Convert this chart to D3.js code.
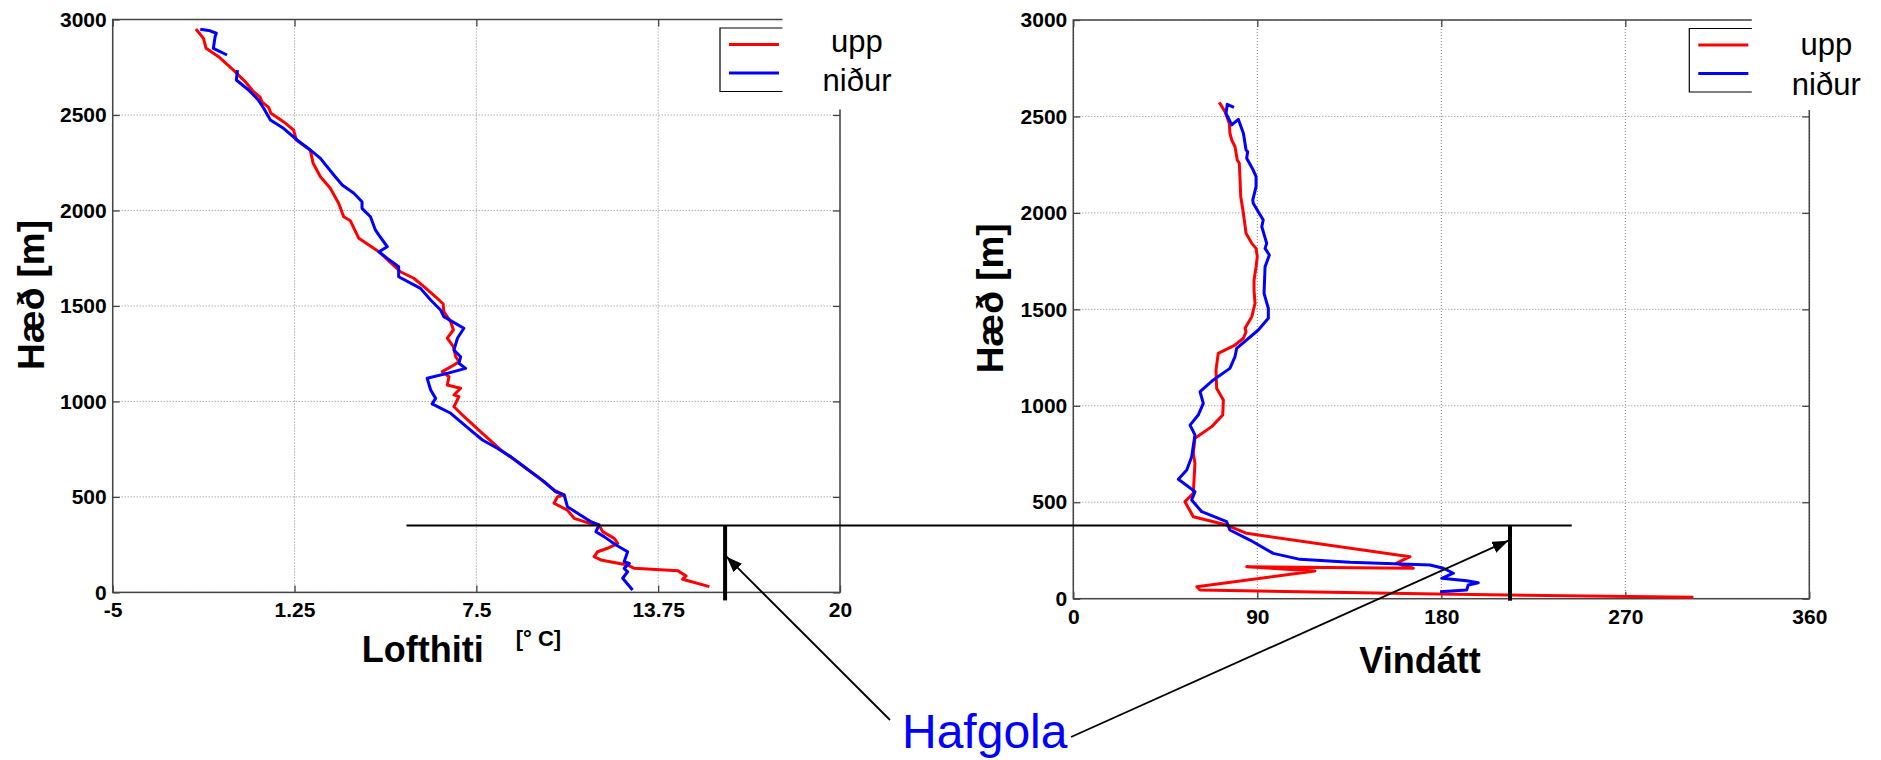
<!DOCTYPE html>
<meta charset="utf-8">
<script src="https://d3js.org/d3.v7.min.js"></script>
<style>
  body { margin: 0; background: #fff; }
  svg text { font-family: "Liberation Sans", Arial, sans-serif; }
</style>
<div id="chart"></div>
<script>
// height ticks shared by both panels
var heightTicks = [0, 500, 1000, 1500, 2000, 2500, 3000];
var tempTicks = [-5, 1.25, 7.5, 13.75, 20];
var dirTicks = [0, 90, 180, 270, 360];
var seriesNames = ["upp", "niður"];

// [lofthiti °C, hæð m] -- upp
var tempUpp = [[-2.14,2950],[-1.88,2901],[-1.79,2849],[-1.36,2805],[-0.85,2735],[-0.44,2674],[-0.16,2622],[0.07,2593],[0.13,2569],[0.36,2540],[0.44,2509],[0.87,2465],[1.22,2421],[1.31,2369],[1.79,2317],[1.89,2247],[2.14,2177],[2.48,2116],[2.77,2037],[2.94,1967],[3.17,1946],[3.46,1854],[4.15,1784],[4.89,1679],[5.35,1645],[5.70,1601],[6.10,1548],[6.36,1510],[6.38,1470],[6.62,1417],[6.71,1374],[6.50,1331],[6.71,1287],[6.79,1234],[6.90,1208],[6.73,1191],[6.33,1156],[6.56,1129],[6.50,1086],[6.96,1069],[6.73,1034],[6.90,1025],[6.73,972],[6.96,938],[7.65,841],[8.34,746],[9.14,658],[9.60,606],[10.17,536],[10.52,510],[10.29,501],[10.17,467],[10.63,431],[10.86,388],[11.32,365],[11.72,353],[11.84,318],[12.24,283],[12.36,257],[12.01,231],[11.67,213],[11.55,187],[11.78,170],[12.70,143],[12.93,126],[14.42,114],[14.71,86],[14.59,69],[15.51,30]];

// niður (null = gap in the record)
var tempNidur = [[-1.99,2949],[-1.65,2941],[-1.44,2928],[-1.48,2910],[-1.54,2849],[-1.07,2814],null,[-0.71,2735],[-0.75,2683],[-0.33,2631],[0.01,2578],[0.19,2535],[0.42,2474],[0.87,2430],[1.34,2369],[1.79,2317],[2.14,2273],[2.60,2186],[2.89,2133],[3.29,2090],[3.57,2046],[3.57,2011],[3.86,1967],[4.03,1898],[4.15,1871],[4.44,1810],[4.15,1784],[4.44,1749],[4.83,1705],[4.83,1653],[5.58,1592],[5.93,1531],[6.27,1479],[6.38,1444],[7.07,1383],[6.85,1331],[6.73,1269],[6.96,1234],[6.90,1200],[7.13,1173],[6.50,1147],[5.81,1121],[5.93,1060],[6.10,1016],[5.98,987],[6.62,938],[7.30,850],[7.71,798],[8.22,755],[8.68,711],[9.14,658],[9.83,580],[10.23,527],[10.52,510],[10.63,449],[10.98,414],[11.44,370],[11.72,353],[11.61,318],[11.89,292],[12.30,248],[12.70,213],[12.58,161],[12.76,152],[12.58,126],[12.70,108],[12.53,74],[12.87,13]];

// [vindátt °, hæð m]
var dirUpp = [[71.4,2573],[74.2,2525],[76.3,2465],[76.6,2413],[77.5,2378],[79.1,2343],[80.2,2274],[81.2,2257],[81.5,2188],[81.9,2084],[83.2,1998],[84.5,1894],[87.3,1842],[89.4,1816],[90.0,1773],[89.4,1721],[88.4,1652],[88.4,1600],[88.9,1531],[87.3,1462],[84.0,1402],[84.5,1384],[83.2,1350],[79.1,1315],[70.9,1272],[69.8,1186],[70.1,1091],[73.4,1030],[73.1,952],[67.7,892],[59.5,832],[58.7,754],[59.5,702],[58.7,546],[54.6,503],[58.7,425],[75.0,382],[84.8,339],[164.7,218],[158.2,184],[166.3,158],[84.8,166],[118.2,144],[60.4,62],[62.0,45],[177.8,24],[303.3,7]];

var dirNidur = [[78.6,2547],[75.3,2563],[74.7,2516],[77.5,2456],[80.7,2485],[83.2,2413],[84.5,2326],[85.3,2317],[84.8,2283],[88.0,2222],[89.4,2188],[89.4,2136],[87.8,2067],[88.0,2050],[92.9,1963],[92.2,1928],[94.6,1842],[93.8,1816],[95.9,1782],[93.8,1721],[93.3,1583],[95.4,1505],[95.4,1454],[90.5,1393],[79.9,1298],[79.1,1255],[76.6,1194],[68.5,1134],[62.0,1073],[63.6,1013],[61.1,952],[57.1,900],[59.5,849],[57.9,736],[55.5,667],[51.4,619],[59.5,555],[57.9,512],[62.8,451],[75.0,399],[76.6,356],[86.4,304],[97.8,235],[110.9,204],[135.3,189],[174.5,175],[181.0,158],[185.9,132],[180.2,106],[192.4,93],[198.1,83],[193.2,71],[192.4,45],[179.4,36]];

// sea-breeze (hafgola) annotation, in data units
var hafgolaHeight = 350;
var hafgolaStartT = 5.1, hafgolaEndDir = 243.8;
var markerT = 16.05, markerDir = 213.6;
var arrowTipLeft = [16.1, 187], arrowTipRight = [212.8, 301];

var svg = d3.select("#chart").append("svg")
    .attr("width", 1881)
    .attr("height", 760)
    .style("background", "#fff");

svg.append("defs").append("marker")
    .attr("id", "arrow")
    .attr("viewBox", "0 0 16 12")
    .attr("refX", 16).attr("refY", 6)
    .attr("markerWidth", 16).attr("markerHeight", 12)
    .attr("markerUnits", "userSpaceOnUse")
    .attr("orient", "auto")
  .append("path")
    .attr("d", "M0,0L16,6L0,12Z")
    .attr("fill", "#000");

function drawPanel(p) {
  var g = svg.append("g").attr("transform", "translate(" + p.left + "," + p.top + ")");

  var x = d3.scaleLinear().domain(p.xDomain).range([0, p.width]);
  var y = d3.scaleLinear().domain([0, 3000]).range([p.height, 0]);

  // dotted grid
  g.append("g").selectAll("line").data(p.xTicks).enter().append("line")
    .attr("x1", function(d) { return x(d); }).attr("x2", function(d) { return x(d); })
    .attr("y1", 0).attr("y2", p.height)
    .attr("stroke", "#888").attr("stroke-width", 1).attr("stroke-dasharray", "1,2");
  g.append("g").selectAll("line").data(heightTicks).enter().append("line")
    .attr("y1", function(d) { return y(d); }).attr("y2", function(d) { return y(d); })
    .attr("x1", 0).attr("x2", p.width)
    .attr("stroke", "#888").attr("stroke-width", 1).attr("stroke-dasharray", "1,2");

  var fmt = function(d) { return String(d); };

  var ax = g.append("g").attr("transform", "translate(0," + p.height + ")")
    .call(d3.axisBottom(x).tickValues(p.xTicks).tickFormat(fmt).tickSizeInner(-7).tickSizeOuter(0).tickPadding(10));
  var ay = g.append("g")
    .call(d3.axisLeft(y).tickValues(heightTicks).tickFormat(fmt).tickSizeInner(-7).tickSizeOuter(0).tickPadding(6));
  var at = g.append("g")
    .call(d3.axisTop(x).tickValues(p.xTicks).tickFormat("").tickSizeInner(-7).tickSizeOuter(0));
  var ar = g.append("g").attr("transform", "translate(" + p.width + ",0)")
    .call(d3.axisRight(y).tickValues(heightTicks).tickFormat("").tickSizeInner(-7).tickSizeOuter(0));
  [ax, ay, at, ar].forEach(function(a) {
    a.select(".domain").remove();
    a.selectAll(".tick line").attr("stroke", "#444").attr("stroke-width", 1.3);
    a.selectAll("text")
      .attr("fill", "#000")
      .style("font-size", "21px")
      .style("font-weight", "bold")
      .style("font-family", "'Liberation Sans', Arial, sans-serif");
  });

  // frame
  g.append("rect")
    .attr("width", p.width).attr("height", p.height)
    .attr("fill", "none").attr("stroke", "#444").attr("stroke-width", 1.5);

  var line = d3.line()
    .defined(function(d) { return d; })
    .x(function(d) { return x(d[0]); })
    .y(function(d) { return y(d[1]); });

  g.append("path").datum(p.upp).attr("d", line)
    .attr("fill", "none").attr("stroke", "#ff0000").attr("stroke-width", 3).attr("stroke-linejoin", "round");
  g.append("path").datum(p.nidur).attr("d", line)
    .attr("fill", "none").attr("stroke", "#0000ff").attr("stroke-width", 3).attr("stroke-linejoin", "round");

  // legend (box partly covered, as in the original figure)
  var bx = p.width - 120;
  g.append("rect").attr("x", bx + 62.5).attr("y", -12).attr("width", 140).attr("height", 102).attr("fill", "#fff");
  g.append("path")
    .attr("d", "M" + (bx + 62.5) + ",8.5H" + bx + "V72H" + (bx + 62.5))
    .attr("fill", "none").attr("stroke", "#000").attr("stroke-width", 1.2);
  [["#ff0000", 25], ["#0000ff", 53.5]].forEach(function(l) {
    g.append("line").attr("x1", bx + 9).attr("x2", bx + 59).attr("y1", l[1]).attr("y2", l[1])
      .attr("stroke", l[0]).attr("stroke-width", 3);
  });
  seriesNames.forEach(function(s, i) {
    g.append("text").attr("x", p.width + 17).attr("y", p.legendY[i])
      .attr("text-anchor", "middle").style("font-size", "31px").text(s);
  });

  // axis titles
  g.append("text")
    .attr("transform", "translate(" + p.yTitleX + "," + (p.height / 2 - 11) + ") rotate(-90)")
    .attr("text-anchor", "middle").style("font-size", "37px").style("font-weight", "bold")
    .text("Hæð [m]");
  g.append("text").attr("x", p.xTitle[0]).attr("y", p.height + p.xTitle[1])
    .style("font-size", "36px").style("font-weight", "bold").text(p.xTitleText);
  if (p.unit) {
    g.append("text").attr("x", p.unit[0]).attr("y", p.height + p.unit[1])
      .style("font-size", "22px").style("font-weight", "bold").text(p.unit[2]);
  }

  return {x: function(v) { return p.left + x(v); }, y: function(v) { return p.top + y(v); }};
}

var L = drawPanel({
  left: 112.7, top: 19.5, width: 727.3, height: 572.9,
  xDomain: [-5, 20], xTicks: tempTicks, upp: tempUpp, nidur: tempNidur,
  legendY: [32.5, 71.5], yTitleX: -69,
  xTitle: [249, 69.3], xTitleText: "Lofthiti", unit: [403, 53.8, "[° C]"]
});
var R = drawPanel({
  left: 1073.3, top: 20, width: 736, height: 578.7,
  xDomain: [0, 360], xTicks: dirTicks, upp: dirUpp, nidur: dirNidur,
  legendY: [35, 75], yTitleX: -70,
  xTitle: [286, 74], xTitleText: "Vindátt", unit: null
});

// hafgola annotation
var yH = L.y(hafgolaHeight);
svg.append("line")
  .attr("x1", L.x(hafgolaStartT)).attr("x2", R.x(hafgolaEndDir))
  .attr("y1", yH).attr("y2", yH)
  .attr("stroke", "#000").attr("stroke-width", 2);
svg.append("line")
  .attr("x1", L.x(markerT)).attr("x2", L.x(markerT))
  .attr("y1", yH).attr("y2", L.y(0) + 8)
  .attr("stroke", "#000").attr("stroke-width", 4);
svg.append("line")
  .attr("x1", R.x(markerDir)).attr("x2", R.x(markerDir))
  .attr("y1", yH).attr("y2", R.y(0) + 2)
  .attr("stroke", "#000").attr("stroke-width", 4);

svg.append("line")
  .attr("x1", 890).attr("y1", 720)
  .attr("x2", L.x(arrowTipLeft[0])).attr("y2", L.y(arrowTipLeft[1]))
  .attr("stroke", "#000").attr("stroke-width", 1.8).attr("marker-end", "url(#arrow)");
svg.append("line")
  .attr("x1", 1071).attr("y1", 737)
  .attr("x2", R.x(arrowTipRight[0])).attr("y2", R.y(arrowTipRight[1]))
  .attr("stroke", "#000").attr("stroke-width", 1.8).attr("marker-end", "url(#arrow)");

svg.append("text")
  .attr("x", 902).attr("y", 748)
  .attr("fill", "#0000ff").style("font-size", "48px")
  .text("Hafgola");
</script>
